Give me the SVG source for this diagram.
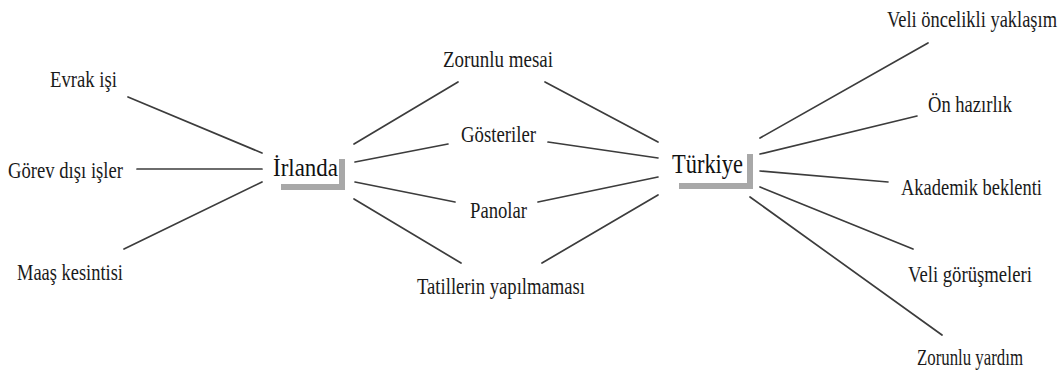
<svg xmlns="http://www.w3.org/2000/svg" width="1062" height="372" viewBox="0 0 1062 372">
  <style>
    .lbl { font-family: "Liberation Serif", "Times New Roman", serif; font-size: 18.5px; fill: #1a1a1a; }
    .hub { font-family: "Liberation Serif", "Times New Roman", serif; fill: #111; }
    .shadow { fill: #a8a8a8; filter: url(#soft); }
    .links line { stroke: #3c3c3c; stroke-width: 1.7; stroke-linecap: round; }
  </style>
  <defs>
    <filter id="soft" x="-10%" y="-10%" width="120%" height="120%">
      <feGaussianBlur stdDeviation="0.6"/>
    </filter>
  </defs>
  <rect width="1062" height="372" fill="#ffffff"/>

  <!-- connectors -->
  <g class="links">
    <!-- İrlanda, left branch -->
    <line x1="128" y1="97" x2="262" y2="153"/>
    <line x1="137" y1="169" x2="262" y2="169"/>
    <line x1="124" y1="249" x2="262" y2="182"/>
    <!-- İrlanda to shared items -->
    <line x1="354" y1="144" x2="458" y2="82"/>
    <line x1="355" y1="162" x2="448" y2="144"/>
    <line x1="355" y1="182" x2="455" y2="202"/>
    <line x1="354" y1="199" x2="461" y2="263"/>
    <!-- shared items to Türkiye -->
    <line x1="545" y1="82" x2="658" y2="142"/>
    <line x1="548" y1="142" x2="658" y2="158"/>
    <line x1="538" y1="202" x2="658" y2="177"/>
    <line x1="542" y1="263" x2="658" y2="195"/>
    <!-- Türkiye, right branch -->
    <line x1="760" y1="138" x2="928" y2="43"/>
    <line x1="760" y1="154" x2="917" y2="116"/>
    <line x1="760" y1="171" x2="888" y2="182"/>
    <line x1="760" y1="187" x2="913" y2="249"/>
    <line x1="750" y1="197" x2="942" y2="335"/>
  </g>

  <!-- hub nodes: tall, narrow serif lettering with an offset L-shaped shadow -->
  <g id="node-irlanda">
    <path class="shadow" d="M339 159 H345 V190 H281 V184 H339 Z"/>
    <text class="hub" transform="translate(273 176) scale(1 1.09)" font-size="23" textLength="65" lengthAdjust="spacingAndGlyphs">İrlanda</text>
  </g>
  <g id="node-turkiye">
    <path class="shadow" d="M747 154 H753 V189 H679 V183 H747 Z"/>
    <text class="hub" transform="translate(672 173) scale(1 1.24)" font-size="22.5" textLength="71" lengthAdjust="spacingAndGlyphs">Türkiye</text>
  </g>

  <!-- İrlanda only -->
  <g id="node-evrak"><text class="lbl" transform="translate(50 87) scale(1 1.19)" textLength="67" lengthAdjust="spacingAndGlyphs">Evrak işi</text></g>
  <g id="node-gorev"><text class="lbl" transform="translate(8 178) scale(1 1.19)" textLength="115" lengthAdjust="spacingAndGlyphs">Görev dışı işler</text></g>
  <g id="node-maas"><text class="lbl" transform="translate(17 280) scale(1 1.19)" textLength="106" lengthAdjust="spacingAndGlyphs">Maaş kesintisi</text></g>

  <!-- shared -->
  <g id="node-mesai"><text class="lbl" transform="translate(443 67) scale(1 1.19)" textLength="110" lengthAdjust="spacingAndGlyphs">Zorunlu mesai</text></g>
  <g id="node-gosteriler"><text class="lbl" transform="translate(461 142) scale(1 1.19)" textLength="75" lengthAdjust="spacingAndGlyphs">Gösteriler</text></g>
  <g id="node-panolar"><text class="lbl" transform="translate(470 218) scale(1 1.19)" textLength="57" lengthAdjust="spacingAndGlyphs">Panolar</text></g>
  <g id="node-tatil"><text class="lbl" transform="translate(417 294) scale(1 1.19)" textLength="168" lengthAdjust="spacingAndGlyphs">Tatillerin yapılmaması</text></g>

  <!-- Türkiye only -->
  <g id="node-veli-oncelik"><text class="lbl" transform="translate(887 27) scale(1 1.19)" textLength="170" lengthAdjust="spacingAndGlyphs">Veli öncelikli yaklaşım</text></g>
  <g id="node-on-hazirlik"><text class="lbl" transform="translate(928 112) scale(1 1.19)" textLength="84" lengthAdjust="spacingAndGlyphs">Ön hazırlık</text></g>
  <g id="node-akademik"><text class="lbl" transform="translate(901 195) scale(1 1.19)" textLength="141" lengthAdjust="spacingAndGlyphs">Akademik beklenti</text></g>
  <g id="node-veli-gorusme"><text class="lbl" transform="translate(908 282) scale(1 1.19)" textLength="124" lengthAdjust="spacingAndGlyphs">Veli görüşmeleri</text></g>
  <g id="node-yardim"><text class="lbl" transform="translate(917 365) scale(1 1.19)" textLength="106" lengthAdjust="spacingAndGlyphs">Zorunlu yardım</text></g>
</svg>
